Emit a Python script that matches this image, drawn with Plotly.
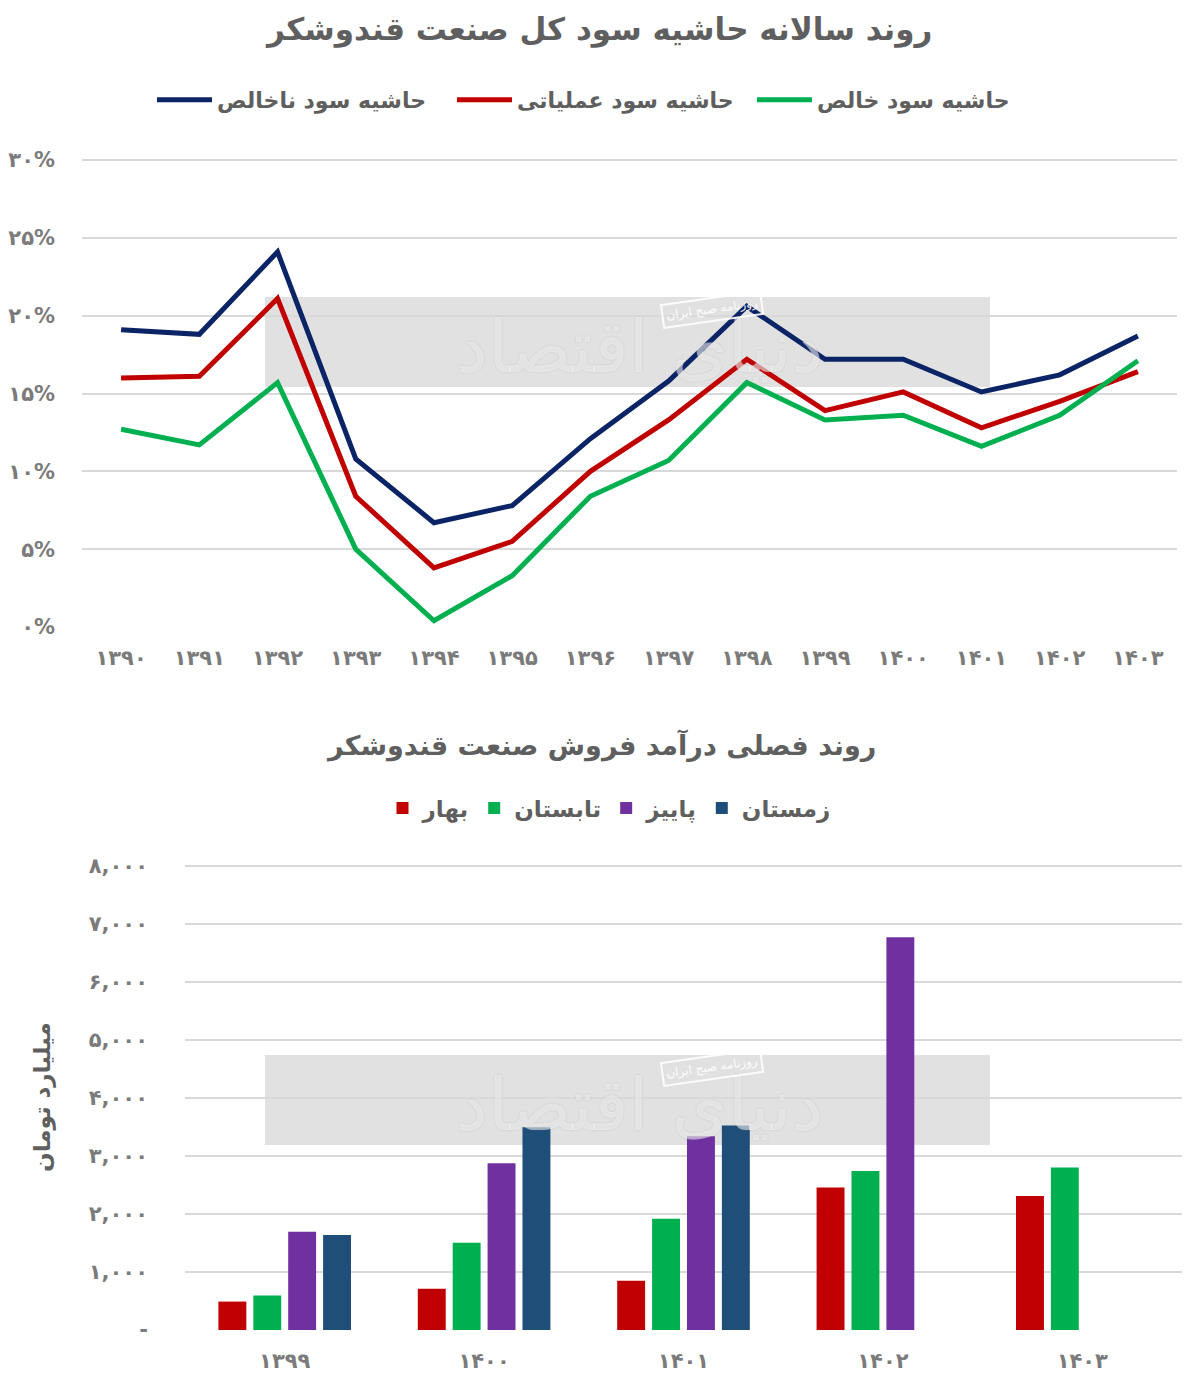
import plotly.graph_objects as go

# ---------------- data ----------------
years_top = ["۱۳۹۰", "۱۳۹۱", "۱۳۹۲", "۱۳۹۳", "۱۳۹۴", "۱۳۹۵", "۱۳۹۶",
             "۱۳۹۷", "۱۳۹۸", "۱۳۹۹", "۱۴۰۰", "۱۴۰۱", "۱۴۰۲", "۱۴۰۳"]
gross_margin = [19.1, 18.8, 24.1, 10.8, 6.7, 7.8, 12.1, 15.8, 20.6, 17.2, 17.2, 15.1, 16.2, 18.7]
operating_margin = [16.0, 16.1, 21.1, 8.4, 3.8, 5.5, 10.0, 13.3, 17.2, 13.9, 15.1, 12.8, 14.5, 16.4]
net_margin = [12.7, 11.7, 15.7, 5.0, 0.4, 3.3, 8.4, 10.7, 15.7, 13.3, 13.6, 11.6, 13.6, 17.1]

top_tickvals = [0, 5, 10, 15, 20, 25, 30]
top_ticktext = ["۰%", "۵%", "۱۰%", "۱۵%", "۲۰%", "۲۵%", "۳۰%"]

years_bot = ["۱۳۹۹", "۱۴۰۰", "۱۴۰۱", "۱۴۰۲", "۱۴۰۳"]
spring = [490, 711, 850, 2457, 2312]
summer = [595, 1503, 1919, 2740, 2803]
autumn = [1694, 2873, 3341, 6770, None]
winter = [1636, 3497, 3526, None, None]

bot_tickvals = [0, 1000, 2000, 3000, 4000, 5000, 6000, 7000, 8000]
bot_ticktext = ["-", "۱,۰۰۰", "۲,۰۰۰", "۳,۰۰۰", "۴,۰۰۰", "۵,۰۰۰", "۶,۰۰۰", "۷,۰۰۰", "۸,۰۰۰"]

# ---------------- styling ----------------
W, H = 1200, 1392
OFF = 8  # page body margin compensation
FONT = "DejaVu Sans"
TXT = "#5f5f5f"
TICK = "#7b7b7b"
GRID = "#d9d9d9"

def py(px):
    return 1 - (px - OFF) / H

def pxx(px):
    return (px - OFF) / W

fig = go.Figure()

line_series = [
    ("حاشیه سود ناخالص", gross_margin, "#0b2466"),
    ("حاشیه سود عملیاتی", operating_margin, "#c00000"),
    ("حاشیه سود خالص", net_margin, "#00b050"),
]
for name, vals, col in line_series:
    fig.add_trace(go.Scatter(
        x=years_top, y=vals, name=name, mode="lines",
        line=dict(color=col, width=5),
        xaxis="x", yaxis="y", legend="legend",
    ))

bar_series = [
    ("بهار", spring, "#c00000"),
    ("تابستان", summer, "#00b050"),
    ("پاییز", autumn, "#7030a0"),
    ("زمستان", winter, "#1f4e79"),
]
for name, vals, col in bar_series:
    fig.add_trace(go.Bar(
        x=years_bot, y=vals, name=name, marker=dict(color=col, line=dict(width=0)),
        xaxis="x2", yaxis="y2", legend="legend2",
    ))

tickfont = dict(size=21, color=TICK, family=FONT, weight="bold")

# top chart: 0% at px 627, 30% at px 160
top_unit = (627 - 160) / 30.0
top_rmax = 31.0
top_dom_top = 627 - top_rmax * top_unit
# bottom chart: 0 at px 1330, 8000 at px 866
bot_unit = (1330 - 866) / 8000.0
bot_rmax = 8300.0
bot_dom_top = 1330 - bot_rmax * bot_unit

fig.update_layout(
    width=W, height=H,
    margin=dict(l=0, r=0, t=0, b=0),
    paper_bgcolor="white", plot_bgcolor="white",
    font=dict(family=FONT, color=TXT),
    barmode="group", bargap=0.3, bargroupgap=0.2,
    xaxis=dict(domain=[pxx(82), pxx(1177)], anchor="y", type="category",
               range=[-0.5, 13.5],
               showgrid=False, showline=False, zeroline=False, ticks="",
               automargin=False, tickfont=tickfont, ticklabelstandoff=16),
    yaxis=dict(domain=[py(627), py(top_dom_top)], anchor="x", range=[0, top_rmax],
               tickvals=top_tickvals, ticktext=top_ticktext,
               showgrid=True, gridcolor=GRID, gridwidth=2, zeroline=False,
               showline=False, ticks="", ticklabelstandoff=26, automargin=False,
               tickfont=tickfont),
    xaxis2=dict(domain=[pxx(185), pxx(1182)], anchor="y2", type="category",
                range=[-0.5, 4.5],
                showgrid=False, showline=False, zeroline=False, ticks="",
                automargin=False, tickfont=tickfont, ticklabelstandoff=16),
    yaxis2=dict(domain=[py(1330), py(bot_dom_top)], anchor="x2", range=[0, bot_rmax],
                tickvals=bot_tickvals, ticktext=bot_ticktext,
                showgrid=True, gridcolor=GRID, gridwidth=2, zeroline=False,
                showline=False, ticks="", ticklabelstandoff=36, automargin=False,
                tickfont=tickfont),
    legend=dict(orientation="h", x=pxx(602), xanchor="center", y=py(100), yanchor="middle",
                font=dict(size=22, color=TXT, family=FONT, weight="bold"), itemwidth=55,
                entrywidth=230, bgcolor="rgba(0,0,0,0)"),
    legend2=dict(orientation="h", x=pxx(609), xanchor="center", y=py(808), yanchor="middle",
                 font=dict(size=23, color=TXT, family=FONT, weight="bold"), itemwidth=30,
                 bgcolor="rgba(0,0,0,0)"),
    showlegend=True,
)

# titles
fig.add_annotation(x=pxx(598), y=py(30), xref="paper", yref="paper", showarrow=False,
                   xanchor="center", yanchor="middle",
                   text="<b>روند سالانه حاشیه سود کل صنعت قندوشکر</b>",
                   font=dict(size=31, color=TXT, family=FONT))
fig.add_annotation(x=pxx(601), y=py(745), xref="paper", yref="paper", showarrow=False,
                   xanchor="center", yanchor="middle",
                   text="<b>روند فصلی درآمد فروش صنعت قندوشکر</b>",
                   font=dict(size=27, color=TXT, family=FONT))
fig.add_annotation(x=pxx(42), y=py(1097), xref="paper", yref="paper", showarrow=False,
                   xanchor="center", yanchor="middle",
                   text="<b>میلیارد تومان</b>", textangle=-90,
                   font=dict(size=23, color=TXT, family=FONT))

# watermark (background box + faint text)
for top, bot in [(297, 387), (1055, 1145)]:
    fig.add_shape(type="rect", xref="paper", yref="paper",
                  x0=pxx(265), x1=pxx(990), y0=py(bot), y1=py(top),
                  fillcolor="rgba(205,205,205,0.6)", line=dict(width=0), layer="below")
    fig.add_annotation(x=pxx(640), y=py(top + 50), xref="paper", yref="paper",
                       xanchor="center", yanchor="middle",
                       showarrow=False, text="دنیای اقتصاد",
                       font=dict(size=72, color="rgba(255,255,255,0.5)", family=FONT,
                                 shadow="0px 0px 2px rgba(140,140,140,0.6)"))
    fig.add_annotation(x=pxx(712), y=py(top + 12), xref="paper", yref="paper",
                       xanchor="center", yanchor="middle",
                       showarrow=False, text="روزنامه صبح ایران", textangle=-8,
                       bordercolor="rgba(255,255,255,0.9)", borderwidth=2, borderpad=3,
                       font=dict(size=12, color="rgba(255,255,255,0.95)", family=FONT))

fig.write_html("out.html")
